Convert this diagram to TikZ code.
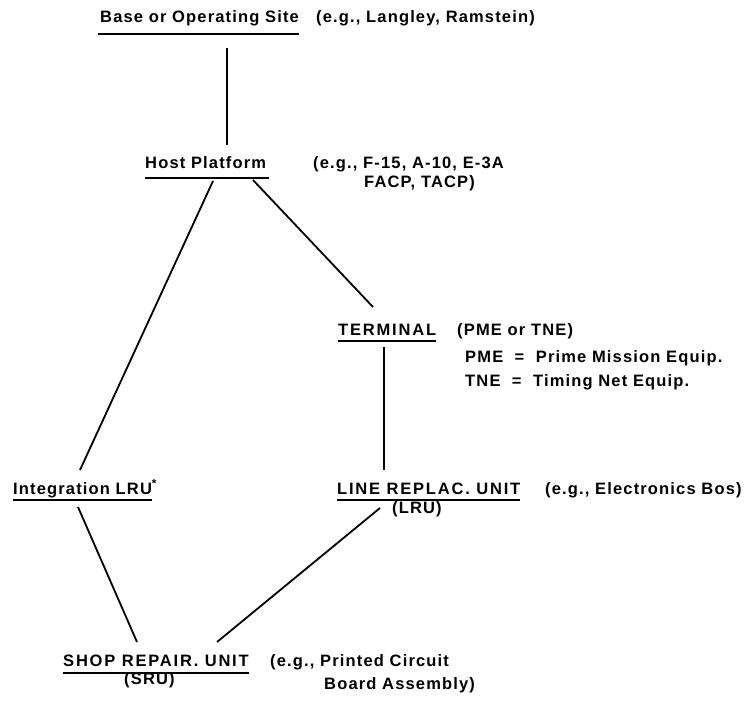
\documentclass[tikz,border=0pt]{standalone}
\usepackage{fontspec}
\setmainfont{Liberation Sans}[LetterSpace=7]
\begin{document}
\begin{tikzpicture}[x=1pt,y=-1pt,
  font={\fontsize{16.5}{20}\selectfont\bfseries},
  lbl/.style={anchor=base west, inner sep=0pt},
  capslbl/.style={lbl, font={\fontsize{16.5}{20}\selectfont\bfseries\addfontfeature{LetterSpace=11}}},
  conn/.style={line width=1.8pt},
  uline/.style={line width=1.3pt}]
\useasboundingbox (0,0) rectangle (753,702);

\node[lbl] (base) at (100,22) {Base or Operating Site};
\node[lbl] (lang) at (316,22) {(e.g., Langley, Ramstein)};
\node[lbl] (host) at (145,168) {Host Platform};
\node[lbl] (f15) at (313,168) {(e.g., F-15, A-10, E-3A};
\node[lbl] (facp) at (364,187) {FACP, TACP)};
\node[capslbl] (term) at (338,335) {TERMINAL};
\node[lbl] (pmeor) at (457,335) {(PME or TNE)};
\node[lbl] (pme) at (465,362) {PME\ \ =\ \ Prime Mission Equip.};
\node[lbl] (tne) at (465,386) {TNE\ \ =\ \ Timing Net Equip.};
\node[lbl] (ilru) at (13,494) {Integration LRU\rlap{\textsuperscript{*}}};
\node[capslbl] (lru) at (337,494) {LINE REPLAC. UNIT};
\node[lbl] (elec) at (545,494) {(e.g., Electronics Bos)};
\node[lbl] (lrup) at (392,513) {(LRU)};
\node[capslbl] (sru) at (63,666) {SHOP REPAIR. UNIT};
\node[lbl] (srup) at (124,684) {(SRU)};
\node[lbl] (print) at (270,666) {(e.g., Printed Circuit};
\node[lbl] (board) at (324,689) {Board Assembly)};

\draw[uline] ([shift={(-2,12)}]base.base west) -- ([shift={(0,12)}]base.base east);
\draw[uline] ([shift={(0,10)}]host.base west) -- ([shift={(3,10)}]host.base east);
\draw[uline] ([shift={(0,6)}]term.base west) -- ([shift={(0,6)}]term.base east);
\draw[uline] ([shift={(0,6)}]ilru.base west) -- ([shift={(0,6)}]ilru.base east);
\draw[uline] ([shift={(0,6)}]lru.base west) -- ([shift={(0,6)}]lru.base east);
\draw[uline] ([shift={(0,7)}]sru.base west) -- ([shift={(0,7)}]sru.base east);

\draw[conn] ([shift={(127,26)}]base.base west) -- ([shift={(82,-23)}]host.base west);
\draw[conn] ([shift={(68,13)}]host.base west) -- ([shift={(67,-24)}]ilru.base west);
\draw[conn] ([shift={(108,12)}]host.base west) -- ([shift={(35,-28)}]term.base west);
\draw[conn] ([shift={(46,12)}]term.base west) -- ([shift={(47,-24)}]lru.base west);
\draw[conn] ([shift={(65,13)}]ilru.base west) -- ([shift={(74,-24)}]sru.base west);
\draw[conn] ([shift={(43,14)}]lru.base west) -- ([shift={(154,-24)}]sru.base west);
\end{tikzpicture}
\end{document}
